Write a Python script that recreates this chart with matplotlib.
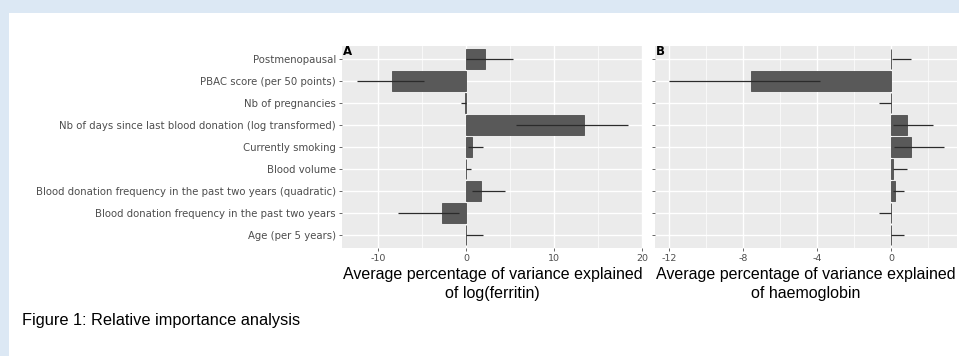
import matplotlib
matplotlib.use("Agg")
import matplotlib.pyplot as plt
import numpy as np
from matplotlib.patches import Rectangle

categories = [
    "Postmenopausal",
    "PBAC score (per 50 points)",
    "Nb of pregnancies",
    "Nb of days since last blood donation (log transformed)",
    "Currently smoking",
    "Blood volume",
    "Blood donation frequency in the past two years (quadratic)",
    "Blood donation frequency in the past two years",
    "Age (per 5 years)",
]

# Panel A: log(ferritin)
ferritin_value = [2.13, -8.4, -0.05, 13.4, 0.75, 0.05, 1.76, -2.66, 0.05]
ferritin_low = [0.0, -12.4, -0.55, 5.7, 0.2, 0.0, 0.75, -7.7, 0.0]
ferritin_high = [5.3, -4.7, 0.0, 18.4, 1.9, 0.55, 4.4, -0.8, 1.9]

# Panel B: haemoglobin
haemo_value = [0.02, -7.57, -0.02, 0.89, 1.08, 0.14, 0.23, -0.02, 0.02]
haemo_low = [0.05, -12.0, -0.65, 0.1, 0.18, 0.14, 0.1, -0.65, 0.0]
haemo_high = [1.08, -3.83, 0.0, 2.28, 2.87, 0.87, 0.69, 0.0, 0.69]

ticks_a = [-10, 0, 10, 20]
minor_a = [-5, 5, 15]
ticks_b = [-12, -8, -4, 0]
minor_b = [-10, -6, -2, 2]

xlabel_a = "Average percentage of variance explained\nof log(ferritin)"
xlabel_b = "Average percentage of variance explained\nof haemoglobin"
caption = "Figure 1: Relative importance analysis"

W, H = 959, 356
fig = plt.figure(figsize=(W / 100, H / 100), dpi=100)
fig.patch.set_facecolor("white")

# light blue frame (top and left)
blue = "#dce8f4"
fig.patches.append(Rectangle((0, 1 - 13 / H), 1, 13 / H, transform=fig.transFigure,
                             facecolor=blue, edgecolor="none", zorder=0))
fig.patches.append(Rectangle((0, 0), 9 / W, 1, transform=fig.transFigure,
                             facecolor=blue, edgecolor="none", zorder=0))

sans = ["Liberation Sans", "DejaVu Sans"]

n = len(categories)
ypos = np.arange(n)[::-1] + 1  # top row = n


def panel(rect, values, low, high, xlim, ticks, minor, xlabel, letter, show_labels):
    ax = fig.add_axes(rect)
    ax.set_facecolor("#ebebeb")
    ax.set_xlim(*xlim)
    ax.set_ylim(0.4, n + 0.6)
    for t in minor:
        ax.axvline(t, color="white", lw=0.5, zorder=0)
    for t in ticks:
        ax.axvline(t, color="white", lw=1.0, zorder=0)
    for y in ypos:
        ax.axhline(y, color="white", lw=1.0, zorder=0)
    ax.barh(ypos, values, height=0.9, color="#595959", edgecolor="#595959",
            linewidth=0.7, zorder=2)
    ax.hlines(ypos, low, high, color="#2b2b2b", lw=0.9, zorder=3)
    for s in ax.spines.values():
        s.set_visible(False)
    ax.set_xticks(ticks)
    ax.set_xticklabels([str(t) for t in ticks], fontsize=6.8, color="#4d4d4d",
                       family="DejaVu Sans")
    ax.set_yticks(ypos)
    if show_labels:
        ax.set_yticklabels(categories, fontsize=7.3, color="#4d4d4d", family="DejaVu Sans")
    else:
        ax.set_yticklabels([])
    ax.tick_params(axis="both", length=2.5, width=0.6, color="#4d4d4d", pad=2)
    ax.set_xlabel(xlabel, fontsize=11.5, family=sans, color="black", labelpad=3,
                  linespacing=1.3)
    ax.text(0.003, 1.005, letter, transform=ax.transAxes, fontsize=8.5,
            fontweight="bold", va="top", ha="left", family="DejaVu Sans", zorder=5)
    return ax


bottom = 1 - 248 / H
height = (248 - 46) / H
panel([342 / W, bottom, 301 / W, height], ferritin_value, ferritin_low, ferritin_high,
      (-14.06, 20.1), ticks_a, minor_a, xlabel_a, "A", True)
panel([655 / W, bottom, 302 / W, height], haemo_value, haemo_low, haemo_high,
      (-12.78, 3.58), ticks_b, minor_b, xlabel_b, "B", False)

fig.text(22 / W, 1 - 320 / H, caption, fontsize=11.8, family=sans,
         va="center", ha="left", color="black")

fig.savefig("out.png", dpi=100)
